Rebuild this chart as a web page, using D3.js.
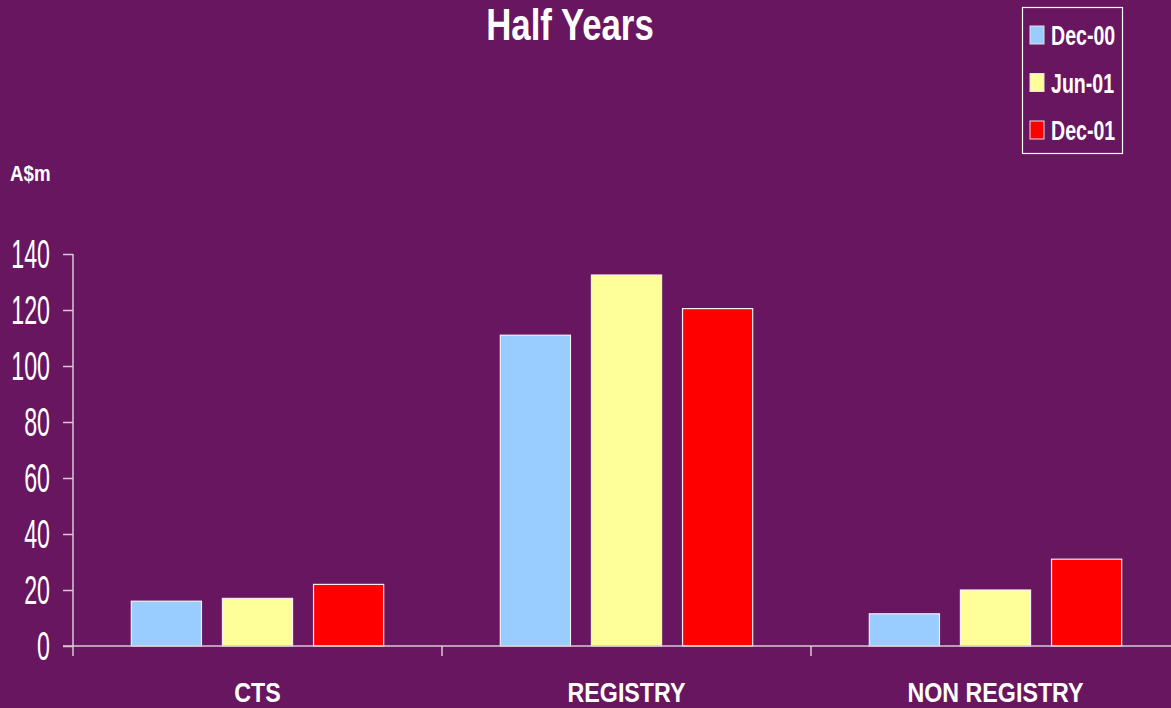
<!DOCTYPE html>
<html><head><meta charset="utf-8">
<script src="https://cdn.jsdelivr.net/npm/d3@7"></script>
<style>
html,body{margin:0;padding:0;background:#68165f;overflow:hidden}
svg{display:block}
text{font-family:"Liberation Sans",Arial,sans-serif;fill:#fff}
</style></head>
<body>
<svg id="chart" width="1171" height="708"></svg>
<script>
const categories = ["CTS", "REGISTRY", "NON REGISTRY"];
const seriesNames = ["Dec-00", "Jun-01", "Dec-01"];
const dec00 = [16, 111, 11.5];
const jun01 = [17, 132.5, 20];
const dec01 = [22, 120.5, 31];
const yTicks = [0, 20, 40, 60, 80, 100, 120, 140];
const colors = ["#99ccff", "#ffff99", "#ff0000"];

const series = [dec00, jun01, dec01];
const svg = d3.select("#chart");
const W = 1171, H = 708;
svg.append("rect").attr("width", W).attr("height", H).attr("fill", "#68165f");

// condensed text helper
function ctext(parent, x, y, str, size, sx, opts = {}) {
  return parent.append("text")
    .attr("transform", `translate(${x},${y}) scale(${sx},1)`)
    .attr("font-size", size)
    .attr("font-weight", opts.bold ? "bold" : "normal")
    .attr("text-anchor", opts.anchor || "start")
    .text(str);
}

const x0 = 73, x1 = 1180, yTop = 254, yBot = 646;
const x = d3.scaleBand().domain(categories).range([x0, x1]).paddingInner(0).paddingOuter(0);
const xs = d3.scaleBand().domain(seriesNames).range([0, x.bandwidth()]).paddingInner(0.23).paddingOuter(0.64);
const y = d3.scaleLinear().domain([0, 140]).range([yBot, yTop]);

// bars
categories.forEach((c, ci) => {
  seriesNames.forEach((s, si) => {
    const v = series[si][ci];
    svg.append("rect")
      .attr("x", x(c) + xs(s))
      .attr("y", y(v))
      .attr("width", xs.bandwidth())
      .attr("height", y(0) - y(v))
      .attr("fill", colors[si])
      .attr("stroke", "#f4eef4")
      .attr("stroke-width", 1.2);
  });
});

const axisColor = "#d9c9d6";
// y axis ticks
const yAxis = svg.append("g").attr("transform", `translate(${x0},0)`)
  .call(d3.axisLeft(y).tickValues(yTicks).tickSize(10).tickFormat(""));
yAxis.select(".domain").remove();
yAxis.selectAll(".tick line").attr("stroke", axisColor).attr("stroke-width", 1.5);
yTicks.forEach(t => ctext(svg, 50, y(t) + 14, String(t), 40, 0.58, { anchor: "end" }));
svg.append("line").attr("x1", x0).attr("x2", x0).attr("y1", yTop).attr("y2", yBot + 10)
  .attr("stroke", axisColor).attr("stroke-width", 1.5);

// x axis
svg.append("line").attr("x1", x0 - 10).attr("x2", W).attr("y1", yBot).attr("y2", yBot)
  .attr("stroke", axisColor).attr("stroke-width", 1.5);
categories.forEach((c, i) => {
  ctext(svg, x(c) + x.bandwidth() / 2, 702, c, 28, 0.83, { bold: true, anchor: "middle" });
  if (i > 0) svg.append("line").attr("x1", x(c)).attr("x2", x(c)).attr("y1", yBot).attr("y2", yBot + 10)
    .attr("stroke", axisColor).attr("stroke-width", 1.5);
});

// title
ctext(svg, 570, 40, "Half Years", 44, 0.79, { bold: true, anchor: "middle" });
// unit label
ctext(svg, 10, 181, "A$m", 22, 0.85, { bold: true });

// legend
const lg = svg.append("g");
lg.append("rect").attr("x", 1022.5).attr("y", 7.5).attr("width", 100).attr("height", 146)
  .attr("fill", "none").attr("stroke", "#fff").attr("stroke-width", 1.2);
seriesNames.forEach((s, i) => {
  const cy = 35 + i * 47.5;
  lg.append("rect").attr("x", 1030).attr("y", cy - 9).attr("width", 14).attr("height", 18)
    .attr("fill", colors[i]).attr("stroke", "#e8dde6").attr("stroke-width", 1);
  ctext(lg, 1051, cy + 10, s, 28, 0.7, { bold: true });
});
</script>
</body></html>
